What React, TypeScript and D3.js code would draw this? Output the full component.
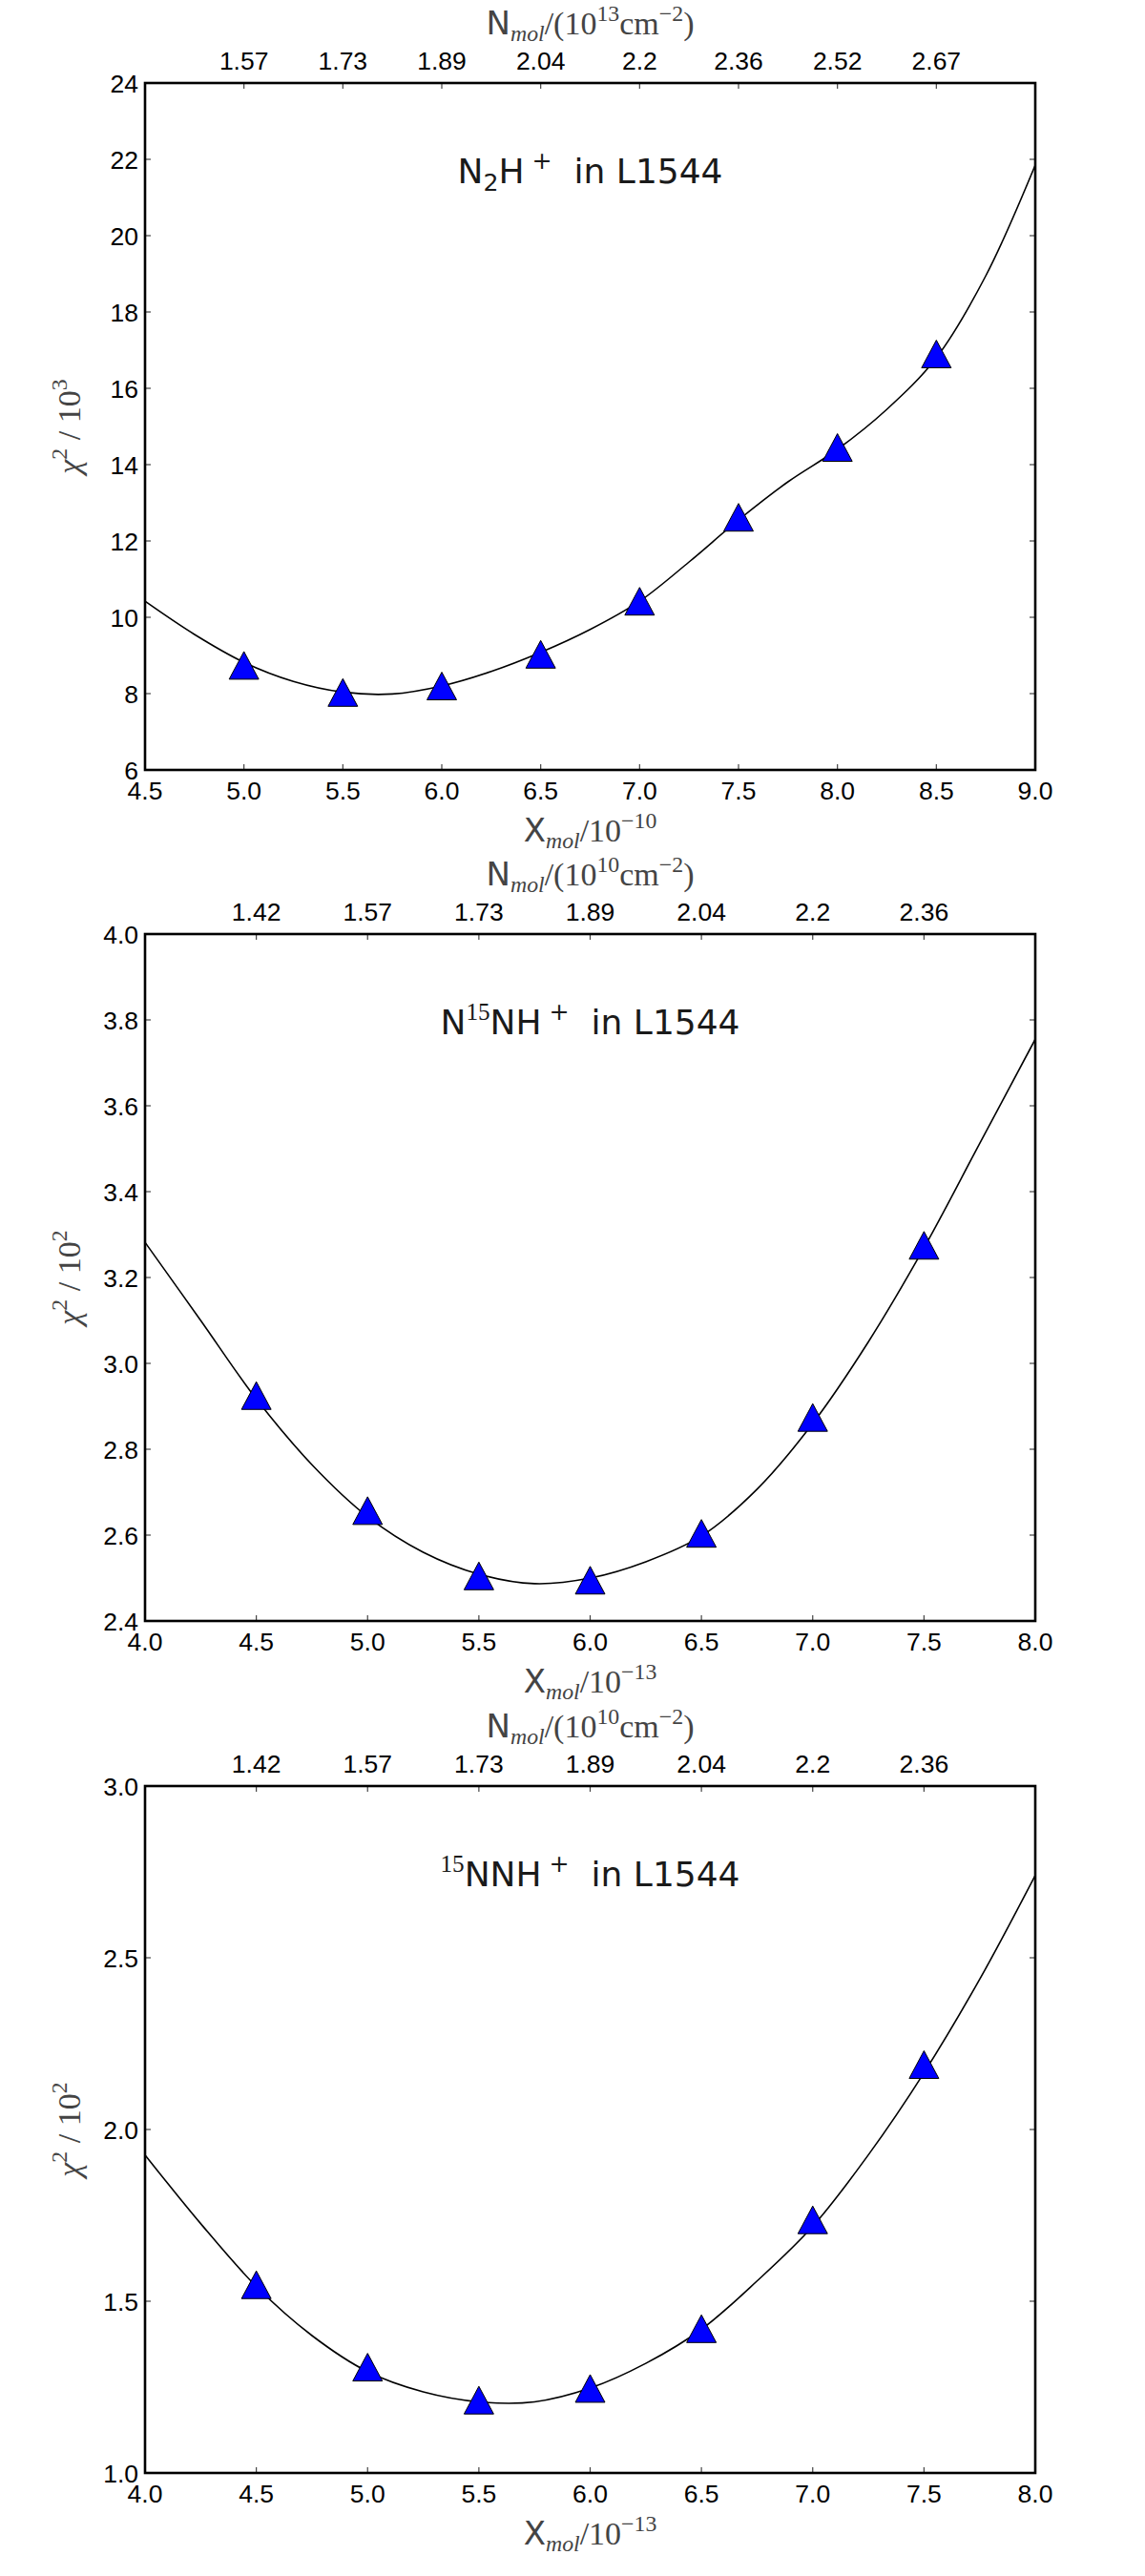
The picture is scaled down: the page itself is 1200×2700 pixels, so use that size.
import { useEffect, useRef } from "react";
import * as d3 from "d3";

// ---- data ----
// panel 1: N2H+
const x1 = [5.0, 5.5, 6.0, 6.5, 7.0, 7.5, 8.0, 8.5];
const chi1 = [8.74, 8.03, 8.2, 9.03, 10.42, 12.62, 14.45, 16.9];
const fitX1 = [4.5, 4.75, 5.0, 5.25, 5.5, 5.75, 6.0, 6.25, 6.5, 6.75, 7.0, 7.25, 7.5, 7.75, 8.0, 8.25, 8.5, 8.75, 9.0];
const fitY1 = [10.42, 9.55, 8.82, 8.32, 8.04, 7.99, 8.2, 8.58, 9.08, 9.68, 10.42, 11.45, 12.55, 13.55, 14.4, 15.45, 16.8, 18.95, 21.85];
const top1 = ["1.57", "1.73", "1.89", "2.04", "2.2", "2.36", "2.52", "2.67"];
const yTicks1 = [6, 8, 10, 12, 14, 16, 18, 20, 22, 24];
const xTicks1 = [4.5, 5.0, 5.5, 6.0, 6.5, 7.0, 7.5, 8.0, 8.5, 9.0];

// panel 2: N15NH+
const x2 = [4.5, 5.0, 5.5, 6.0, 6.5, 7.0, 7.5];
const chi2 = [2.925, 2.657, 2.505, 2.495, 2.604, 2.874, 3.275];
const fitX2 = [4.0, 4.25, 4.5, 4.75, 5.0, 5.25, 5.5, 5.75, 6.0, 6.25, 6.5, 6.75, 7.0, 7.25, 7.5, 7.75, 8.0];
const fitY2 = [3.282, 3.1, 2.917, 2.764, 2.643, 2.56, 2.509, 2.487, 2.5, 2.538, 2.598, 2.707, 2.86, 3.05, 3.269, 3.512, 3.755];
const top2 = ["1.42", "1.57", "1.73", "1.89", "2.04", "2.2", "2.36"];
const yTicks2 = [2.4, 2.6, 2.8, 3.0, 3.2, 3.4, 3.6, 3.8, 4.0];
const xTicks23 = [4.0, 4.5, 5.0, 5.5, 6.0, 6.5, 7.0, 7.5, 8.0];

// panel 3: 15NNH+
const x3 = [4.5, 5.0, 5.5, 6.0, 6.5, 7.0, 7.5];
const chi3 = [1.548, 1.308, 1.212, 1.246, 1.42, 1.737, 2.189];
const fitX3 = [4.0, 4.25, 4.5, 4.75, 5.0, 5.25, 5.5, 5.75, 6.0, 6.25, 6.5, 6.75, 7.0, 7.25, 7.5, 7.75, 8.0];
const fitY3 = [1.926, 1.726, 1.543, 1.4, 1.295, 1.236, 1.207, 1.207, 1.247, 1.319, 1.418, 1.559, 1.718, 1.926, 2.165, 2.437, 2.74];
const top3 = ["1.42", "1.57", "1.73", "1.89", "2.04", "2.2", "2.36"];
const yTicks3 = [1.0, 1.5, 2.0, 2.5, 3.0];

type Seg = { t: string; serif?: boolean; it?: boolean; sh?: number; sc?: number };

const SANS = "'DejaVu Sans', sans-serif";
const SERIF = "'Liberation Serif', 'DejaVu Serif', serif";
const TICKF = "'Liberation Sans', Arial, sans-serif";

interface Panel {
  top: number;
  xDom: [number, number];
  yDom: [number, number];
  xs: number[];
  ys: number[];
  fx: number[];
  fy: number[];
  xTicks: number[];
  yTicks: number[];
  yFmt: (v: number) => string;
  topLabels: string[];
  topExp: string;
  xExp: string;
  yExp: string;
  title: Seg[];
}

const panels: Panel[] = [
  {
    top: 87, xDom: [4.5, 9.0], yDom: [6, 24], xs: x1, ys: chi1, fx: fitX1, fy: fitY1,
    xTicks: xTicks1, yTicks: yTicks1, yFmt: d3.format("d"), topLabels: top1,
    topExp: "13", xExp: "\u221210", yExp: "3",
    title: [{ t: "N" }, { t: "2", sh: 0.22, sc: 0.7 }, { t: "H" }, { t: " +", sh: -0.42, sc: 0.7 }, { t: "  in L1544" }],
  },
  {
    top: 979, xDom: [4.0, 8.0], yDom: [2.4, 4.0], xs: x2, ys: chi2, fx: fitX2, fy: fitY2,
    xTicks: xTicks23, yTicks: yTicks2, yFmt: d3.format(".1f"), topLabels: top2,
    topExp: "10", xExp: "\u221213", yExp: "2",
    title: [{ t: "N" }, { t: "15", serif: true, sh: -0.42, sc: 0.7 }, { t: "NH" }, { t: " +", sh: -0.42, sc: 0.7 }, { t: "  in L1544" }],
  },
  {
    top: 1872, xDom: [4.0, 8.0], yDom: [1.0, 3.0], xs: x3, ys: chi3, fx: fitX3, fy: fitY3,
    xTicks: xTicks23, yTicks: yTicks3, yFmt: d3.format(".1f"), topLabels: top3,
    topExp: "10", xExp: "\u221213", yExp: "2",
    title: [{ t: "15", serif: true, sh: -0.42, sc: 0.7 }, { t: "NNH" }, { t: " +", sh: -0.42, sc: 0.7 }, { t: "  in L1544" }],
  },
];

const PL = 152, PR = 1085, PH = 720;

function rich(
  parent: d3.Selection<SVGGElement, unknown, null, undefined>,
  segs: Seg[], size: number, x: number, y: number, fill: string, transform?: string
) {
  const text = parent.append("text")
    .attr("x", x).attr("y", y)
    .attr("text-anchor", "middle").attr("fill", fill)
    .attr("font-size", size)
    .style("white-space", "pre");
  if (transform) text.attr("transform", transform);
  let cur = 0;
  segs.forEach(s => {
    const sh = (s.sh ?? 0) * size;
    text.append("tspan")
      .attr("dy", sh - cur)
      .attr("font-family", s.serif ? SERIF : SANS)
      .attr("font-style", s.it ? "italic" : "normal")
      .attr("font-size", size * (s.sc ?? 1))
      .text(s.t);
    cur = sh;
  });
}

export default function App() {
  const ref = useRef<SVGSVGElement>(null);

  useEffect(() => {
    if (!ref.current) return;
    const svg = d3.select(ref.current);
    svg.selectAll("*").remove();
    svg.append("rect").attr("width", 1200).attr("height", 2700).attr("fill", "white");

    panels.forEach(p => {
      const g = svg.append("g");
      const x = d3.scaleLinear().domain(p.xDom).range([PL, PR]);
      const y = d3.scaleLinear().domain(p.yDom).range([p.top + PH, p.top]);
      const bottom = p.top + PH;

      // fitted curve
      const line = d3.line<number>()
        .x((_, i) => x(p.fx[i]))
        .y(d => y(d))
        .curve(d3.curveCatmullRom.alpha(0.5));
      g.append("path")
        .attr("d", line(p.fy))
        .attr("fill", "none").attr("stroke", "black").attr("stroke-width", 1.6);

      // triangle markers
      p.xs.forEach((xv, i) => {
        const cx = x(xv), cy = y(p.ys[i]);
        g.append("path")
          .attr("d", `M${cx},${cy - 14.5}L${cx + 15.5},${cy + 14.5}L${cx - 15.5},${cy + 14.5}Z`)
          .attr("fill", "#0000ff").attr("stroke", "black").attr("stroke-width", 1);
      });

      // ticks (inward, all sides)
      const tk = "#444";
      const fs = 26.5;
      p.xTicks.forEach(t => {
        g.append("line").attr("x1", x(t)).attr("x2", x(t)).attr("y1", bottom).attr("y2", bottom - 6)
          .attr("stroke", tk).attr("stroke-width", 1.2);
        g.append("text").attr("x", x(t)).attr("y", bottom + 31)
          .attr("text-anchor", "middle").attr("font-family", TICKF).attr("font-size", fs).attr("fill", "black")
          .text(d3.format(".1f")(t));
      });
      p.xs.forEach((t, i) => {
        g.append("line").attr("x1", x(t)).attr("x2", x(t)).attr("y1", p.top).attr("y2", p.top + 6)
          .attr("stroke", tk).attr("stroke-width", 1.2);
        g.append("text").attr("x", x(t)).attr("y", p.top - 14)
          .attr("text-anchor", "middle").attr("font-family", TICKF).attr("font-size", fs).attr("fill", "black")
          .text(p.topLabels[i]);
      });
      p.yTicks.forEach(t => {
        g.append("line").attr("x1", PL).attr("x2", PL + 6).attr("y1", y(t)).attr("y2", y(t))
          .attr("stroke", tk).attr("stroke-width", 1.2);
        g.append("line").attr("x1", PR).attr("x2", PR - 6).attr("y1", y(t)).attr("y2", y(t))
          .attr("stroke", tk).attr("stroke-width", 1.2);
        g.append("text").attr("x", PL - 7).attr("y", y(t)).attr("dy", "0.36em")
          .attr("text-anchor", "end").attr("font-family", TICKF).attr("font-size", fs).attr("fill", "black")
          .text(p.yFmt(t));
      });

      // frame
      g.append("rect").attr("x", PL).attr("y", p.top).attr("width", PR - PL).attr("height", PH)
        .attr("fill", "none").attr("stroke", "black").attr("stroke-width", 2.6);

      const cx = (PL + PR) / 2;
      // title
      rich(g, p.title, 36, cx, p.top + 105, "#1a1a1a");

      // axis labels
      const lab = "#444";
      rich(g, [
        { t: "X" }, { t: "mol", serif: true, it: true, sh: 0.22, sc: 0.7 },
        { t: "/10", serif: true }, { t: p.xExp, serif: true, sh: -0.42, sc: 0.7 },
      ], 34, cx, bottom + 75, lab);
      rich(g, [
        { t: "N" }, { t: "mol", serif: true, it: true, sh: 0.22, sc: 0.7 },
        { t: "/(10", serif: true }, { t: p.topExp, serif: true, sh: -0.42, sc: 0.7 },
        { t: "cm", serif: true }, { t: "\u22122", serif: true, sh: -0.42, sc: 0.7 },
        { t: ")", serif: true },
      ], 34, cx, p.top - 51, lab);
      const cy = p.top + PH / 2;
      rich(g, [
        { t: "\u03c7", serif: true, it: true }, { t: "2", serif: true, sh: -0.42, sc: 0.7 },
        { t: " / ", serif: true }, { t: "10", serif: true }, { t: p.yExp, serif: true, sh: -0.42, sc: 0.7 },
      ], 34, 84, cy, lab, `rotate(-90,84,${cy})`);
    });
  }, []);

  return (
    <div style={{ position: "absolute", left: 0, top: 0, width: 1200, height: 2700, background: "white" }}>
      <svg ref={ref} width={1200} height={2700} style={{ display: "block" }} />
    </div>
  );
}
